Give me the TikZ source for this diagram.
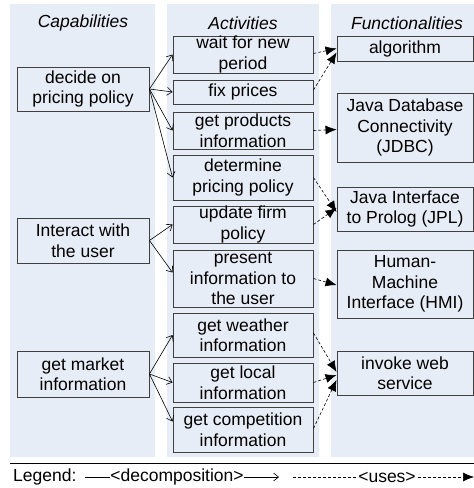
\documentclass[tikz,border=0pt]{standalone}
\usepackage{fontspec}
\setmainfont{Liberation Sans}
\usetikzlibrary{arrows.meta}
\definecolor{panelfill}{RGB}{231,237,246}
\definecolor{boxline}{RGB}{64,64,64}
\begin{document}
\begin{tikzpicture}[x=1pt,y=-1pt,
  txt/.style={font=\fontsize{17.5}{20.5}\selectfont, align=center},
  head/.style={font=\fontsize{17.5}{20.5}\selectfont\itshape, inner sep=0pt},
  box/.style={txt, draw=boxline, line width=0.9pt, inner sep=0pt, fill=panelfill},
  capbox/.style={box, minimum width=132pt},
  actbox/.style={box, minimum width=140pt},
  funbox/.style={box, minimum width=136pt},
  dec/.style={draw, line width=0.6pt, -{Straight Barb[length=5pt,width=8pt]}},
  uses/.style={draw, line width=0.6pt, dash pattern=on 3pt off 2pt, -{Latex[length=11pt,width=9pt]}}
]
\useasboundingbox (0,0) rectangle (474,488);
\fill[white] (0,0) rectangle (474,488);
% panels
\fill[panelfill] (10,4) rectangle (155,457);
\fill[panelfill] (167,4) rectangle (319,457);
\fill[panelfill] (331,4) rectangle (474,457);
% headers
\node[head] (h1) at (83,23) {Capabilities};
\node[head] (h2) at (243,23) {Activities};
\node[head] (h3) at (407,23) {Functionalities};
% capabilities
\node[capbox, minimum height=44pt] (c1) at (83,89) {decide on\\pricing policy};
\node[capbox, minimum height=45pt] (c2) at (83,240.5) {Interact with\\the user};
\node[capbox, minimum height=46pt] (c3) at (83,374) {get market\\information};
% activities
\node[actbox, minimum height=37pt] (a1) at (243,54.5) {wait for new\\period};
\node[actbox, minimum height=24pt] (a2) at (243,92) {fix prices};
\node[actbox, minimum height=37pt] (a3) at (243,130.5) {get products\\information};
\node[actbox, minimum height=45pt] (a4) at (243,177.5) {determine\\pricing policy};
\node[actbox, minimum height=37pt] (a5) at (243,224.5) {update firm\\policy};
\node[actbox, minimum height=57pt] (a6) at (243,278.5) {present\\information to\\the user};
\node[actbox, minimum height=44pt] (a7) at (243,335) {get weather\\information};
\node[actbox, minimum height=39pt] (a8) at (243,382.5) {get local\\information};
\node[actbox, minimum height=45pt] (a9) at (243,429.5) {get competition\\information};
% functionalities
\node[funbox, minimum height=25pt] (f1) at (405,48.5) {algorithm};
\node[funbox, minimum height=69pt] (f2) at (405,127.5) {Java Database\\Connectivity\\(JDBC)};
\node[funbox, minimum height=44pt] (f3) at (405,209) {Java Interface\\to Prolog (JPL)};
\node[funbox, minimum height=68pt] (f4) at (405,284) {Human-\\Machine\\Interface (HMI)};
\node[funbox, minimum height=44pt] (f5) at (405,373) {invoke web\\service};
% decomposition
\draw[dec] (c1.east) -- (a1.west);
\draw[dec] (c1.east) -- (a2.west);
\draw[dec] (c1.east) -- (a3.west);
\draw[dec] (c1.east) -- (a4.west);
\draw[dec] (c2.east) -- (a5.west);
\draw[dec] (c2.east) -- ([yshift=6pt]a6.west);
\draw[dec] (c3.east) -- (a7.west);
\draw[dec] (c3.east) -- (a8.west);
\draw[dec] (c3.east) -- ([yshift=8pt]a9.west);
% uses
\draw[uses] ([yshift=1pt]a1.east) -- (f1.west);
\draw[uses] ([yshift=2pt]a2.east) -- ([yshift=-4pt]f1.west);
\draw[uses] (a3.east) -- ([yshift=-2pt]f2.west);
\draw[uses] (a4.east) -- ([yshift=-3pt]f3.west);
\draw[uses] (a5.east) -- ([yshift=1pt]f3.west);
\draw[uses] (a6.east) -- ([yshift=-1pt]f4.west);
\draw[uses] ([yshift=2pt]a7.east) -- ([yshift=1pt]f5.west);
\draw[uses] (a8.east) -- ([yshift=-2pt]f5.west);
\draw[uses] ([yshift=1pt]a9.east) -- ([yshift=-7pt]f5.west);
% legend
\coordinate (l1) at (10,463);
\coordinate (l2) at (474,463);
\draw[line width=0.8pt] (l1) -- (l2);
\node[txt, anchor=west, inner sep=0pt] (leg) at (13,477) {Legend:};
\coordinate (d1) at (85,477);
\coordinate (d2) at (279,477);
\draw[dec] (d1) -- (d2);
\node[txt, fill=white, inner sep=0.5pt] (dl) at (177,477) {<decomposition>};
\coordinate (u1) at (293,477);
\coordinate (u2) at (474,477);
\draw[uses] (u1) -- (u2);
\node[txt, fill=white, inner sep=0.5pt] (ul) at (387,477) {<uses>};
\end{tikzpicture}
\end{document}
